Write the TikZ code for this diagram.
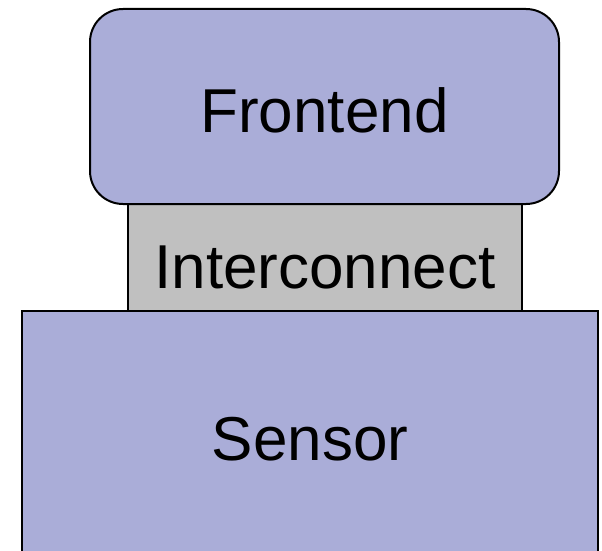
\documentclass[tikz,border=0pt]{standalone}
\usepackage{fontspec}
\setmainfont{Liberation Sans}
\definecolor{chipblue}{RGB}{170,173,216}
\definecolor{bondgray}{RGB}{192,192,192}
\tikzset{
  block/.style={draw=black, inner sep=0pt, text depth=0pt,
    font=\fontsize{62pt}{68pt}\selectfont}
}
\begin{document}
\begin{tikzpicture}[x=1pt, y=-1pt]
        \clip (0,0) rectangle (602,551);
        \node [block, fill=bondgray, line width=1.5pt, minimum width=394pt, minimum height=107pt, text height=61pt] (I) at (325,257.5) {Interconnect};
        \node [block, fill=chipblue, line width=2pt, rounded corners=33pt, minimum width=469pt, minimum height=195pt, text height=51pt] (F) at (324.5,106.5) {Frontend};
        \node [block, fill=chipblue, line width=2pt, minimum width=576pt, minimum height=250pt, text height=48pt] (S) at (310,436) {Sensor};
    \end{tikzpicture}
\end{document}
